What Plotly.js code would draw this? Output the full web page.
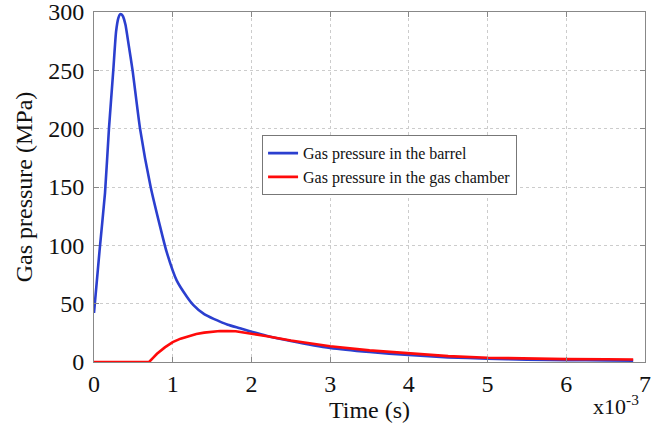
<!DOCTYPE html>
<html>
<head>
<meta charset="utf-8">
<script src="https://cdn.plot.ly/plotly-3.0.1.min.js"></script>
<style>html,body{margin:0;padding:0;background:#fff;}#chart{width:659px;height:423px;}</style>
</head>
<body>
<div id="chart"></div>
<script>
// Time in units of 1e-3 s
const barrelTime = [0, 0.07, 0.14, 0.19, 0.245, 0.28, 0.31, 0.33, 0.35, 0.37, 0.4, 0.44, 0.49, 0.585, 0.72, 0.84, 0.92, 1.05, 1.18, 1.26, 1.4, 1.52, 1.7, 1.855, 2.0, 2.19, 2.5, 3.0, 3.5, 4.0, 4.5, 5.0, 5.5, 6.0, 6.5, 6.85];
const barrelPressure = [42, 95, 145, 200, 250, 283, 295, 298, 298, 296, 289, 272, 250, 200, 150, 116, 95, 70, 56, 49, 41, 37, 32, 29, 26, 22.5, 18, 12, 8.5, 6, 4, 2.8, 2, 1.6, 1.3, 1.2];
const chamberTime = [0, 0.7, 0.75, 0.8, 0.9, 1.0, 1.1, 1.2, 1.3, 1.4, 1.5, 1.6, 1.7, 1.8, 1.9, 2.0, 2.2, 2.5, 3.0, 3.5, 4.0, 4.5, 5.0, 5.5, 6.0, 6.5, 6.85];
const chamberPressure = [0, 0, 3.5, 7, 12.5, 17, 20, 22.3, 24, 25.2, 26, 26.5, 26.6, 26.3, 25.3, 24, 22, 18.5, 13.5, 10, 7.4, 5, 3.6, 2.9, 2.5, 2.3, 2.1];
const xTicks = [0, 1, 2, 3, 4, 5, 6, 7];
const yTicks = [0, 50, 100, 150, 200, 250, 300];
const seriesNames = ["Gas pressure in the barrel", "Gas pressure in the gas chamber"];

const serif = "Liberation Serif, Times New Roman, serif";
const traces = [
  {x: barrelTime, y: barrelPressure, mode: "lines", name: seriesNames[0],
   line: {color: "#2b3fcf", width: 2.6, shape: "spline", smoothing: 0.5}},
  {x: chamberTime, y: chamberPressure, mode: "lines", name: seriesNames[1],
   line: {color: "#ff0a0a", width: 2.6, shape: "linear"}}
];
const layout = {
  width: 659, height: 423,
  margin: {l: 94, r: 14, t: 12, b: 61},
  paper_bgcolor: "#fff", plot_bgcolor: "#fff",
  font: {family: serif, color: "#111"},
  showlegend: true,
  legend: {x: 0.305, y: 0.648, xanchor: "left", yanchor: "top",
    bgcolor: "#fff", bordercolor: "#777", borderwidth: 1,
    font: {family: serif, size: 16, color: "#111"}, tracegroupgap: 0,
    itemwidth: 30},
  xaxis: {range: [0, 7], tickvals: xTicks, ticktext: xTicks.map(String),
    showline: true, mirror: "ticks", linecolor: "#888", linewidth: 1,
    ticks: "inside", ticklen: 5, tickcolor: "#888",
    showgrid: true, gridcolor: "#cccccc", griddash: "dot", gridwidth: 1,
    zeroline: false, tickfont: {family: serif, size: 24, color: "#111"},
    ticklabeloverflow: "allow",
    title: {text: "Time (s)", font: {family: serif, size: 24, color: "#111"}, standoff: 2}},
  yaxis: {range: [0, 300], tickvals: yTicks,
    showline: true, mirror: "ticks", linecolor: "#888", linewidth: 1,
    ticks: "inside", ticklen: 5, tickcolor: "#888",
    showgrid: true, gridcolor: "#cccccc", griddash: "dot", gridwidth: 1,
    zeroline: false, tickfont: {family: serif, size: 24, color: "#111"},
    ticklabelstandoff: 4, ticklabeloverflow: "allow",
    title: {text: "Gas pressure (MPa)", font: {family: serif, size: 24, color: "#111"}, standoff: 8}},
  annotations: [
    {xref: "paper", yref: "paper", x: 0.993, y: -0.123, xanchor: "right", yanchor: "middle",
     text: "x10<sup>-3</sup>", showarrow: false, font: {family: serif, size: 22, color: "#111"}}
  ]
};
Plotly.newPlot("chart", traces, layout, {displayModeBar: false, staticPlot: true});
</script>
</body>
</html>
